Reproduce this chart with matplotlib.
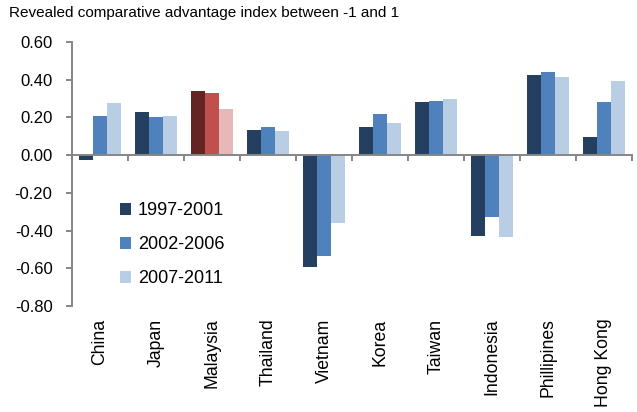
import matplotlib
matplotlib.use("Agg")
import matplotlib.pyplot as plt
import numpy as np
from matplotlib.patches import Patch

plt.rcParams['font.family'] = ['Liberation Sans', 'DejaVu Sans']

categories = ["China", "Japan", "Malaysia", "Thailand", "Vietnam", "Korea",
              "Taiwan", "Indonesia", "Phillipines", "Hong Kong"]
series_names = ["1997-2001", "2002-2006", "2007-2011"]
s1997 = [-0.028, 0.231, 0.341, 0.134, -0.593, 0.147, 0.281, -0.427, 0.424, 0.095]
s2002 = [0.207, 0.205, 0.330, 0.148, -0.535, 0.217, 0.288, -0.328, 0.441, 0.283]
s2007 = [0.279, 0.208, 0.245, 0.129, -0.359, 0.171, 0.297, -0.431, 0.413, 0.392]
yticks = [0.60, 0.40, 0.20, 0.00, -0.20, -0.40, -0.60, -0.80]

blue_colors = ["#243F60", "#4F81BD", "#B9CDE5"]
red_colors = ["#632523", "#C0504D", "#E6B9B8"]
highlight = "Malaysia"
axis_gray = "#868686"

fig = plt.figure(figsize=(6.37, 4.12), dpi=100)
ax = fig.add_axes([0.113, 0.257, 0.879, 0.641])

x = np.arange(len(categories))
width = 0.25
all_series = [s1997, s2002, s2007]
for k, vals in enumerate(all_series):
    cols = [red_colors[k] if c == highlight else blue_colors[k] for c in categories]
    ax.bar(x + (k - 1) * width, vals, width, color=cols, linewidth=0, zorder=2)

ax.set_xlim(-0.5, len(categories) - 0.5)
ax.set_ylim(-0.8, 0.6)
ax.set_yticks(yticks)
ax.set_yticklabels([f"{v:.2f}" for v in yticks], fontsize=12)

for s in ['top', 'right']:
    ax.spines[s].set_visible(False)
ax.spines['left'].set_color(axis_gray)
ax.spines['left'].set_linewidth(1.4)
ax.spines['bottom'].set_position(('data', 0))
ax.spines['bottom'].set_color(axis_gray)
ax.spines['bottom'].set_linewidth(1.4)
ax.spines['bottom'].set_zorder(3)

ax.set_xticks(np.arange(len(categories) + 1) - 0.5)
ax.set_xticklabels([])
ax.tick_params(axis='x', direction='out', length=4, width=1.4, color=axis_gray)
ax.tick_params(axis='y', direction='out', length=4, width=1.4, color=axis_gray, pad=10)

for i, c in enumerate(categories):
    ax.annotate(c, xy=(i, 0), xycoords=('data', 'axes fraction'),
                xytext=(0, -9), textcoords='offset points',
                rotation=90, ha='center', va='top', fontsize=12.7)

handles = [Patch(facecolor=blue_colors[k], edgecolor='none') for k in range(3)]
fig.legend(handles, series_names, loc='upper left', bbox_to_anchor=(0.188, 0.51),
           frameon=False, fontsize=13, handlelength=0.65, handleheight=0.65,
           handletextpad=0.35, labelspacing=0.95, borderpad=0, borderaxespad=0)

fig.text(0.014, 0.985, "Revealed comparative advantage index between -1 and 1",
         ha='left', va='top', fontsize=11)

fig.savefig("out.png", dpi=100)
